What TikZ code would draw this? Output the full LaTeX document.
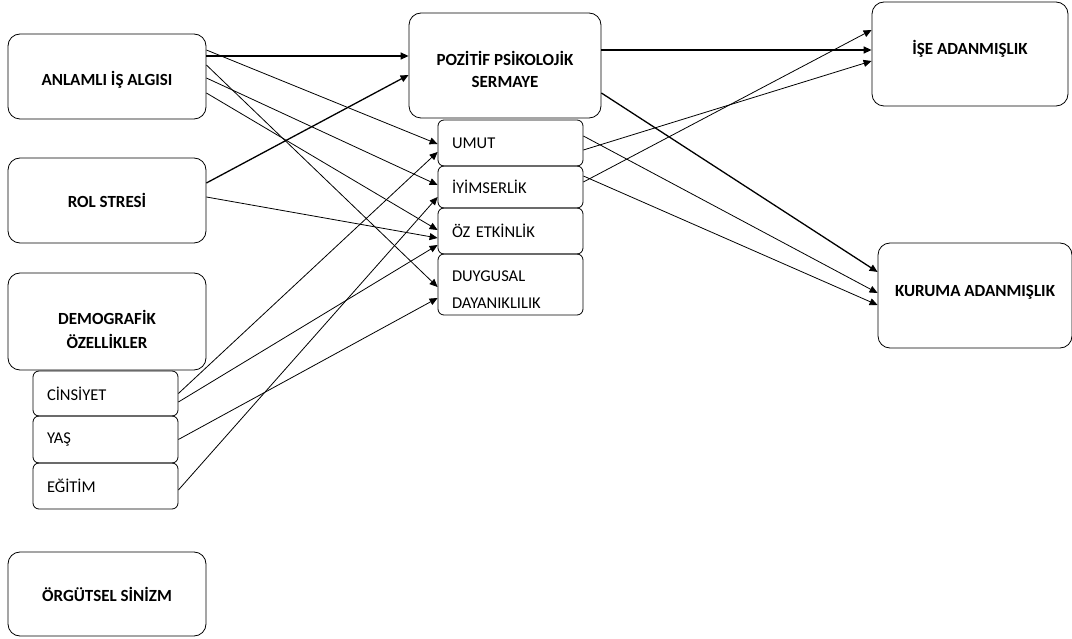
\documentclass[tikz,border=0pt]{standalone}
\usepackage{fontspec}
\setmainfont{Carlito}
\usetikzlibrary{arrows.meta}
\newcommand\liftline[1]{\rule{0pt}{#1}}

\begin{document}
\begin{tikzpicture}[
    x=1pt, y=-1pt,
    box/.style ={
        draw=black,
        rounded corners=12pt,
        line width=0.8pt,
        inner sep=0pt,
        align=center,
        font=\fontsize{17}{24}\selectfont\bfseries
    },
    sub/.style ={
        draw=black,
        rounded corners=6pt,
        line width=0.8pt,
        inner xsep=14pt,
        inner ysep=0pt,
        text width=117pt,
        minimum width=145pt,
        align=left,
        font=\fontsize{16.5}{27}\selectfont
    },
    arr/.style ={
        -{Triangle[length=8pt,width=7pt]},
        line width=0.8pt
    },
    thick arr/.style ={
        arr,
        line width=1.3pt
    }
    ]
    \useasboundingbox (0,0) rectangle (1072,639);

    % left column
    \node[box, minimum width=198pt, minimum height=85pt] (anl) at (107,76.5) {\liftline{21pt}ANLAMLI İŞ ALGISI};
    \node[box, minimum width=198pt, minimum height=85pt] (rol) at (107,200.5) {ROL STRESİ};
    \node[box, minimum width=198pt, minimum height=97pt] (dem) at (107,321.5) {\liftline{31pt}DEMOGRAFİK\\ÖZELLİKLER};
    \foreach \x/\y/\h/\txt in {cin/393.5/45/CİNSİYET, yas/439.5/47/YAŞ, egi/486/46/EĞİTİM}
        \node[sub, minimum height=\h pt] (\x) at (105.5,\y) {\txt};
    \node[box, minimum width=198pt, minimum height=84pt] (org) at (107,594) {ÖRGÜTSEL SİNİZM};

    % middle column
    \node[box, minimum width=192pt, minimum height=105pt, font=\fontsize{17}{22}\selectfont\bfseries] (pps) at (505,65.5) {\liftline{22pt}POZİTİF PSİKOLOJİK\\SERMAYE};
    \foreach \x/\y/\h/\txt in {umut/143/46/UMUT, iyi/187/42/İYİMSERLİK, oz/231/46/ÖZ ETKİNLİK,
                               duy/284.5/61/\liftline{22pt}DUYGUSAL\\DAYANIKLILIK}
        \node[sub, minimum height=\h pt] (\x) at (510.5,\y) {\txt};

    % right column
    \node[box, minimum width=196pt, minimum height=104pt, text depth=14pt] (ise) at (970,54) {İŞE ADANMIŞLIK};
    \node[box, minimum width=194pt, minimum height=105pt, text depth=10pt] (kur) at (975,295.5) {KURUMA ADANMIŞLIK};

    % connectors
    \foreach \src/\sy/\dst/\dy in {anl/20.5/pps/9.5, rol/17.5/pps/-9.5, pps/15.5/ise/4, pps/-27.5/kur/23.5}
        \draw[thick arr] ([yshift=\sy pt]\src.east) -- ([yshift=\dy pt]\dst.west);

    \foreach \src/\sy/\dst/\dy in {anl/26.5/umut/-1, anl/11.5/duy/-2.5, anl/-1.5/iyi/2, anl/-16.5/oz/1,
                                   rol/3.5/oz/-7,
                                   cin/0/umut/-9, cin/-8.5/oz/-14, egi/-4/iyi/-10, yas/0/duy/-13.5,
                                   umut/-7/ise/-7, umut/7/kur/2.5, iyi/5/ise/24, iyi/11/kur/-9.5}
        \draw[arr] ([yshift=\sy pt]\src.east) -- ([yshift=\dy pt]\dst.west);

\end{tikzpicture}
\end{document}
